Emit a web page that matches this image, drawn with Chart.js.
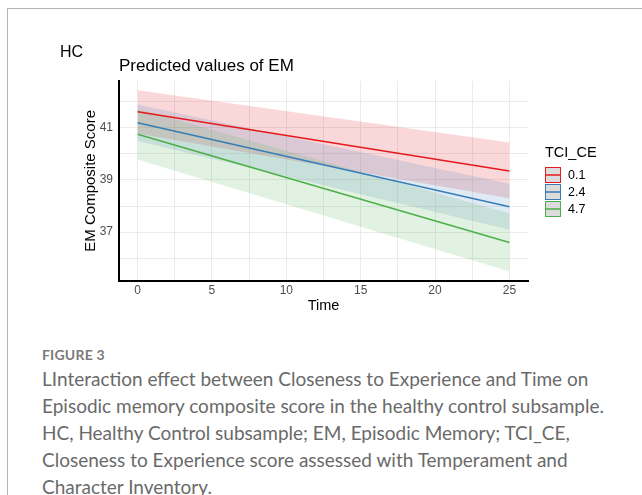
<!DOCTYPE html>
<html>
<head>
<meta charset="utf-8">
<script src="https://cdn.jsdelivr.net/npm/chart.js@4.4.1/dist/chart.umd.min.js"></script>
<style>
html,body{margin:0;padding:0;background:#fff;width:642px;height:495px;overflow:hidden;}
body{position:relative;font-family:"Liberation Sans",Arial,sans-serif;}
#card{position:absolute;left:7px;top:8px;width:700px;height:600px;border-left:1.5px solid #b3b3b3;border-top:1.5px solid #b3b3b3;}
#wrap{position:absolute;left:0;top:0;width:642px;height:320px;}
#hc{position:absolute;left:60px;top:43.8px;font-size:16px;line-height:16px;color:#000;white-space:nowrap;}
#ttl{position:absolute;left:119px;top:57.3px;font-size:17px;line-height:17px;color:#000;white-space:nowrap;}
#fig{position:absolute;left:42px;top:345.5px;font-family:Lato,"Open Sans",sans-serif;font-weight:700;font-size:14px;line-height:17px;color:#7a7a7a;letter-spacing:0.2px;}
#cap{position:absolute;left:42px;top:364.5px;font-family:Lato,"Open Sans",sans-serif;font-weight:400;font-size:19px;line-height:27px;color:#6a6a6a;white-space:nowrap;}
</style>
</head>
<body>
<div id="card"></div>
<div id="wrap"><canvas id="c" width="642" height="320"></canvas></div>
<div id="hc">HC</div>
<div id="ttl">Predicted values of EM</div>
<div id="fig">FIGURE 3</div>
<div id="cap">LInteraction effect between Closeness to Experience and Time on<br>Episodic memory composite score in the healthy control subsample.<br>HC, Healthy Control subsample; EM, Episodic Memory; TCI_CE,<br>Closeness to Experience score assessed with Temperament and<br>Character Inventory.</div>
<script>
// ---- data ----
const legendTitle = 'TCI_CE';
const tciLevels = ['0.1', '2.4', '4.7'];
const timePoints = [0, 25];
const pred_01 = [41.61, 39.34];
const low_01  = [40.78, 38.30];
const high_01 = [42.44, 40.43];
const pred_24 = [41.19, 37.97];
const low_24  = [40.49, 37.09];
const high_24 = [41.89, 38.85];
const pred_47 = [40.75, 36.60];
const low_47  = [39.78, 35.49];
const high_47 = [41.72, 37.71];
const xGridValues = [0, 2.5, 5, 7.5, 10, 12.5, 15, 17.5, 20, 22.5, 25];
const xTickLabels = [0, 5, 10, 15, 20, 25];
const yGridValues = [36, 37, 38, 39, 40, 41, 42];
const yTickLabels = [37, 39, 41];

const colors = ['#E41A1C', '#377EB8', '#4DAF4A'];
const bandColors = ['rgba(228,26,28,0.17)', 'rgba(55,126,184,0.16)', 'rgba(77,175,74,0.16)'];

const toPts = arr => timePoints.map((t, i) => ({x: t, y: arr[i]}));
const preds = [pred_01, pred_24, pred_47];
const lows = [low_01, low_24, low_47];
const highs = [high_01, high_24, high_47];

const datasets = [];
// lines (drawn last = on top)
preds.forEach((p, k) => datasets.push({
  label: tciLevels[k], data: toPts(p), borderColor: colors[k], borderWidth: 1.6,
  pointRadius: 0, fill: false, tension: 0
}));
// bands: green, blue, red (so red is drawn first, green on top)
[2, 1, 0].forEach(k => {
  datasets.push({label: 'lo' + k, data: toPts(lows[k]), borderWidth: 0, borderColor: 'rgba(0,0,0,0)', pointRadius: 0, fill: false});
  datasets.push({label: 'hi' + k, data: toPts(highs[k]), borderWidth: 0, borderColor: 'rgba(0,0,0,0)', pointRadius: 0, fill: '-1', backgroundColor: bandColors[k]});
});

const legendPlugin = {
  id: 'ggLegend',
  afterDraw(chart) {
    const ctx = chart.ctx;
    ctx.save();
    ctx.fillStyle = '#000';
    ctx.font = '14.5px "Liberation Sans", Arial, sans-serif';
    ctx.textAlign = 'left';
    ctx.textBaseline = 'middle';
    ctx.fillText(legendTitle, 545, 153);
    tciLevels.forEach((lab, k) => {
      const y0 = 167 + k * 17;
      ctx.fillStyle = '#dcdcdc';
      ctx.fillRect(545.5, y0 + 0.5, 15, 15);
      ctx.strokeStyle = colors[k];
      ctx.lineWidth = 1;
      ctx.strokeRect(545.5, y0 + 0.5, 15, 15);
      ctx.beginPath();
      ctx.lineWidth = 1.5;
      ctx.moveTo(545.5, y0 + 8);
      ctx.lineTo(560.5, y0 + 8);
      ctx.stroke();
      ctx.fillStyle = '#000';
      ctx.font = '12.5px "Liberation Sans", Arial, sans-serif';
      ctx.fillText(lab, 568, y0 + 8.5);
    });
    ctx.restore();
  }
};

new Chart(document.getElementById('c'), {
  type: 'line',
  data: {datasets},
  plugins: [legendPlugin],
  options: {
    responsive: false,
    animation: false,
    events: [],
    layout: {padding: {left: 80, right: 114, top: 81, bottom: 0}},
    plugins: {legend: {display: false}, tooltip: {enabled: false}, title: {display: false}},
    scales: {
      x: {
        type: 'linear', min: -1.25, max: 26.25,
        afterBuildTicks: s => { s.ticks = xGridValues.map(v => ({value: v})); },
        afterFit: s => { s.height = 39.3; },
        grid: {color: '#ebebeb', lineWidth: 1, drawTicks: false},
        border: {display: true, color: '#000', width: 2},
        ticks: {
          padding: 3, color: '#4d4d4d', maxRotation: 0, autoSkip: false,
          font: {family: '"Liberation Sans", Arial, sans-serif', size: 12},
          callback: v => xTickLabels.includes(v) ? String(v) : ''
        },
        title: {display: true, text: 'Time', color: '#000', padding: {top: 0, bottom: 5.4},
          font: {family: '"Liberation Sans", Arial, sans-serif', size: 14.5}}
      },
      y: {
        type: 'linear', min: 35.14, max: 42.79,
        afterBuildTicks: s => { s.ticks = yGridValues.map(v => ({value: v})); },
        afterFit: s => { s.width = 39; },
        grid: {color: '#ebebeb', lineWidth: 1, drawTicks: false},
        border: {display: true, color: '#000', width: 2},
        ticks: {
          padding: 6, color: '#4d4d4d', autoSkip: false,
          font: {family: '"Liberation Sans", Arial, sans-serif', size: 12},
          callback: v => yTickLabels.includes(v) ? String(v) : ''
        },
        title: {display: true, text: 'EM Composite Score', color: '#000', padding: {top: 1.5, bottom: 0},
          font: {family: '"Liberation Sans", Arial, sans-serif', size: 15}}
      }
    }
  }
});
</script>
</body>
</html>
